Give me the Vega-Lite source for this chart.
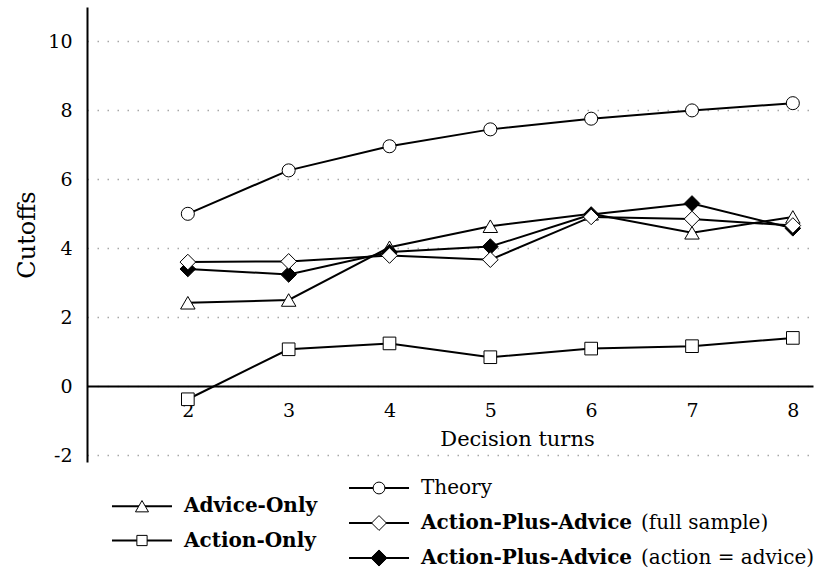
{
  "$schema": "https://vega.github.io/schema/vega-lite/v6.json",
  "background": "white",
  "padding": {"left": 15, "top": 7, "right": 4, "bottom": 4},
  "config": {
    "font": "DejaVu Serif",
    "view": {"stroke": null},
    "axis": {
      "domainColor": "black",
      "domainWidth": 2,
      "ticks": false,
      "labelColor": "black",
      "titleColor": "black",
      "titleFontWeight": "normal",
      "labelFont": "DejaVu Serif",
      "titleFont": "DejaVu Serif"
    }
  },
  "datasets": {
    "cutoffs": [
      {"series": "Theory", "turn": 2, "cutoff": 5.0},
      {"series": "Theory", "turn": 3, "cutoff": 6.26},
      {"series": "Theory", "turn": 4, "cutoff": 6.96},
      {"series": "Theory", "turn": 5, "cutoff": 7.45},
      {"series": "Theory", "turn": 6, "cutoff": 7.76},
      {"series": "Theory", "turn": 7, "cutoff": 8.0},
      {"series": "Theory", "turn": 8, "cutoff": 8.21},
      {"series": "Action-Only", "turn": 2, "cutoff": -0.38},
      {"series": "Action-Only", "turn": 3, "cutoff": 1.07},
      {"series": "Action-Only", "turn": 4, "cutoff": 1.24},
      {"series": "Action-Only", "turn": 5, "cutoff": 0.84},
      {"series": "Action-Only", "turn": 6, "cutoff": 1.09},
      {"series": "Action-Only", "turn": 7, "cutoff": 1.16},
      {"series": "Action-Only", "turn": 8, "cutoff": 1.4},
      {"series": "Advice-Only", "turn": 2, "cutoff": 2.42},
      {"series": "Advice-Only", "turn": 3, "cutoff": 2.5},
      {"series": "Advice-Only", "turn": 4, "cutoff": 4.03},
      {"series": "Advice-Only", "turn": 5, "cutoff": 4.64},
      {"series": "Advice-Only", "turn": 6, "cutoff": 5.0},
      {"series": "Advice-Only", "turn": 7, "cutoff": 4.45},
      {"series": "Advice-Only", "turn": 8, "cutoff": 4.91},
      {"series": "Action-Plus-Advice (action = advice)", "turn": 2, "cutoff": 3.4},
      {"series": "Action-Plus-Advice (action = advice)", "turn": 3, "cutoff": 3.24},
      {"series": "Action-Plus-Advice (action = advice)", "turn": 4, "cutoff": 3.89},
      {"series": "Action-Plus-Advice (action = advice)", "turn": 5, "cutoff": 4.05},
      {"series": "Action-Plus-Advice (action = advice)", "turn": 6, "cutoff": 4.98},
      {"series": "Action-Plus-Advice (action = advice)", "turn": 7, "cutoff": 5.3},
      {"series": "Action-Plus-Advice (action = advice)", "turn": 8, "cutoff": 4.58},
      {"series": "Action-Plus-Advice (full sample)", "turn": 2, "cutoff": 3.6},
      {"series": "Action-Plus-Advice (full sample)", "turn": 3, "cutoff": 3.62},
      {"series": "Action-Plus-Advice (full sample)", "turn": 4, "cutoff": 3.79},
      {"series": "Action-Plus-Advice (full sample)", "turn": 5, "cutoff": 3.67},
      {"series": "Action-Plus-Advice (full sample)", "turn": 6, "cutoff": 4.91},
      {"series": "Action-Plus-Advice (full sample)", "turn": 7, "cutoff": 4.85},
      {"series": "Action-Plus-Advice (full sample)", "turn": 8, "cutoff": 4.66}
    ],
    "legend": [
      {"series": "Advice-Only", "head": "Advice-Only", "tail": "", "column": 0, "slot": 0.52},
      {"series": "Action-Only", "head": "Action-Only", "tail": "", "column": 0, "slot": 1.5},
      {"series": "Theory", "head": "Theory", "tail": "", "column": 1, "slot": 0},
      {"series": "Action-Plus-Advice (full sample)", "head": "Action-Plus-Advice", "tail": "(full sample)", "column": 1, "slot": 1},
      {"series": "Action-Plus-Advice (action = advice)", "head": "Action-Plus-Advice", "tail": "(action = advice)", "column": 1, "slot": 2}
    ]
  },
  "bounds": "flush",
  "spacing": 26,
  "resolve": {"scale": {"x": "independent", "y": "independent", "size": "independent"}},
  "vconcat": [
    {
      "width": 726,
      "height": 455,
      "data": {"name": "cutoffs"},
      "encoding": {
        "x": {
          "field": "turn",
          "type": "quantitative",
          "scale": {"domain": [1, 8.2], "nice": false, "zero": false},
          "axis": {
            "values": [2, 3, 4, 5, 6, 7, 8],
            "offset": -76,
            "grid": false,
            "title": "Decision turns",
            "labelFontSize": 19,
            "labelPadding": 15,
            "titleFontSize": 21,
            "titlePadding": 8,
            "titleX": 430
          }
        },
        "y": {
          "field": "cutoff",
          "type": "quantitative",
          "scale": {"domain": [-2.2, 11], "nice": false, "zero": false},
          "axis": {
            "values": [-2, 0, 2, 4, 6, 8, 10],
            "labelExpr": "toString(datum.value)",
            "title": "Cutoffs",
            "titleFontSize": 24,
            "labelFontSize": 19,
            "labelPadding": 15,
            "titlePadding": 8,
            "grid": true,
            "gridDash": [1.5, 8.5],
            "gridColor": "#a8a8a8",
            "gridWidth": 1.5
          }
        }
      },
      "layer": [
        {
          "mark": {"type": "line", "color": "black", "strokeWidth": 2},
          "encoding": {"detail": {"field": "series", "type": "nominal"}}
        },
        {
          "mark": {"type": "point", "filled": true, "stroke": "black", "strokeWidth": 1, "opacity": 1},
          "encoding": {
            "shape": {
              "field": "series",
              "type": "nominal",
              "scale": {
                "domain": ["Theory", "Advice-Only", "Action-Only", "Action-Plus-Advice (full sample)", "Action-Plus-Advice (action = advice)"],
                "range": ["circle", "triangle-up", "square", "diamond", "diamond"]
              },
              "legend": null
            },
            "fill": {
              "field": "series",
              "type": "nominal",
              "scale": {
                "domain": ["Theory", "Advice-Only", "Action-Only", "Action-Plus-Advice (full sample)", "Action-Plus-Advice (action = advice)"],
                "range": ["white", "white", "white", "white", "black"]
              },
              "legend": null
            },
            "size": {
              "field": "series",
              "type": "nominal",
              "scale": {
                "type": "ordinal",
                "domain": ["Theory", "Advice-Only", "Action-Only", "Action-Plus-Advice (full sample)", "Action-Plus-Advice (action = advice)"],
                "range": [170, 210, 160, 245, 245]
              },
              "legend": null
            }
          }
        }
      ]
    },
    {
      "width": 726,
      "height": 70,
      "data": {"name": "legend"},
      "encoding": {
        "x": {
          "field": "column",
          "type": "quantitative",
          "scale": {"domain": [-0.232, 2.831], "nice": false, "zero": false},
          "axis": null
        },
        "y": {
          "field": "slot",
          "type": "quantitative",
          "scale": {"domain": [0, 2], "reverse": true, "nice": false, "zero": false},
          "axis": null
        }
      },
      "layer": [
        {
          "mark": {"type": "point", "shape": "stroke", "size": 3600, "filled": false, "stroke": "black", "strokeWidth": 2, "opacity": 1}
        },
        {
          "mark": {"type": "point", "filled": true, "stroke": "black", "strokeWidth": 1, "opacity": 1},
          "encoding": {
            "shape": {
              "field": "series",
              "type": "nominal",
              "scale": {
                "domain": ["Theory", "Advice-Only", "Action-Only", "Action-Plus-Advice (full sample)", "Action-Plus-Advice (action = advice)"],
                "range": ["circle", "triangle-up", "square", "diamond", "diamond"]
              },
              "legend": null
            },
            "fill": {
              "field": "series",
              "type": "nominal",
              "scale": {
                "domain": ["Theory", "Advice-Only", "Action-Only", "Action-Plus-Advice (full sample)", "Action-Plus-Advice (action = advice)"],
                "range": ["white", "white", "white", "white", "black"]
              },
              "legend": null
            },
            "size": {
              "field": "series",
              "type": "nominal",
              "scale": {
                "type": "ordinal",
                "domain": ["Theory", "Advice-Only", "Action-Only", "Action-Plus-Advice (full sample)", "Action-Plus-Advice (action = advice)"],
                "range": [140, 170, 105, 220, 260]
              },
              "legend": null
            }
          }
        },
        {
          "transform": [{"filter": "datum.series !== 'Theory'"}],
          "mark": {"type": "text", "align": "left", "baseline": "middle", "dx": 42, "fontSize": 20, "fontWeight": "bold", "color": "black"},
          "encoding": {"text": {"field": "head", "type": "nominal"}}
        },
        {
          "transform": [{"filter": "datum.series === 'Theory'"}],
          "mark": {"type": "text", "align": "left", "baseline": "middle", "dx": 42, "fontSize": 20, "color": "black"},
          "encoding": {"text": {"field": "head", "type": "nominal"}}
        },
        {
          "transform": [{"filter": "datum.tail !== ''"}],
          "mark": {"type": "text", "align": "left", "baseline": "middle", "dx": 262, "fontSize": 20, "color": "black"},
          "encoding": {"text": {"field": "tail", "type": "nominal"}}
        }
      ]
    }
  ]
}
